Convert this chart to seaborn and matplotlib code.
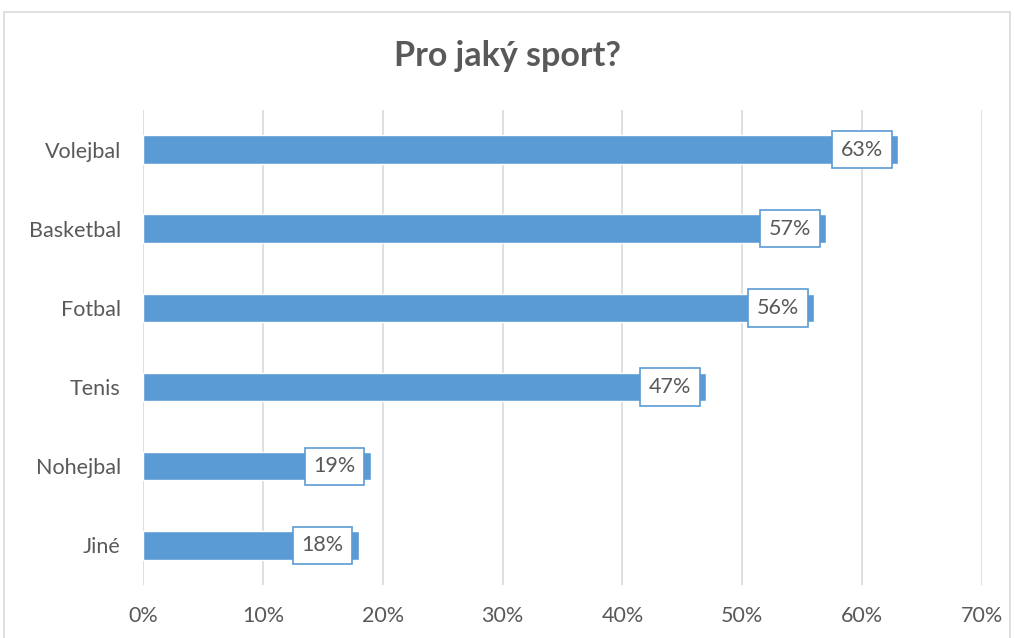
import matplotlib
matplotlib.use("Agg")
import matplotlib.pyplot as plt
import seaborn as sns
import pandas as pd
from matplotlib.patches import Rectangle

sports = ["Volejbal", "Basketbal", "Fotbal", "Tenis", "Nohejbal", "Jiné"]
shares = [63, 57, 56, 47, 19, 18]
xticks = [0, 10, 20, 30, 40, 50, 60, 70]

bar_color = "#5B9BD5"
text_color = "#595959"
grid_color = "#D9D9D9"

sns.set_theme(style="white")
plt.rcParams["font.family"] = ["Lato", "DejaVu Sans"]

df = pd.DataFrame({"sport": sports, "share": shares})

fig = plt.figure(figsize=(10.15, 6.38), dpi=100)
ax = fig.add_axes([0.1409, 0.0831, 0.8266, 0.7445])

sns.barplot(data=df, x="share", y="sport", color=bar_color, width=0.36,
            saturation=1, ax=ax, zorder=2)

ax.set_xlim(0, 70)
ax.set_ylim(5.5, -0.5)
ax.set_xticks(xticks)
ax.set_xticklabels([f"{t}%" for t in xticks])
ax.xaxis.grid(True, color=grid_color, linewidth=1.2, zorder=0)
ax.set_axisbelow(True)
ax.set_xlabel("")
ax.set_ylabel("")
for s in ax.spines.values():
    s.set_visible(False)
ax.tick_params(axis="x", length=0, pad=15, labelsize=15.5, colors=text_color)
ax.tick_params(axis="y", length=0, pad=16, labelsize=15.5, colors=text_color)

for i, v in enumerate(shares):
    ax.annotate(f"{v}%", xy=(v, i), xytext=(-26, 0), textcoords="offset points",
                ha="center", va="center", fontsize=15.5, color=text_color, zorder=5,
                bbox=dict(boxstyle="square,pad=0.4", fc="white", ec=bar_color, lw=1.2))

fig.text(0.5, 0.912, "Pro jaký sport?", ha="center", va="center",
         fontsize=24.5, fontweight="bold", color=text_color)

fig.patches.append(Rectangle((4 / 1015, -0.01), 1006 / 1015, 1 - 12 / 638 + 0.01,
                             transform=fig.transFigure, fill=False,
                             edgecolor=grid_color, linewidth=1.2))

fig.savefig("out.png", dpi=100)
